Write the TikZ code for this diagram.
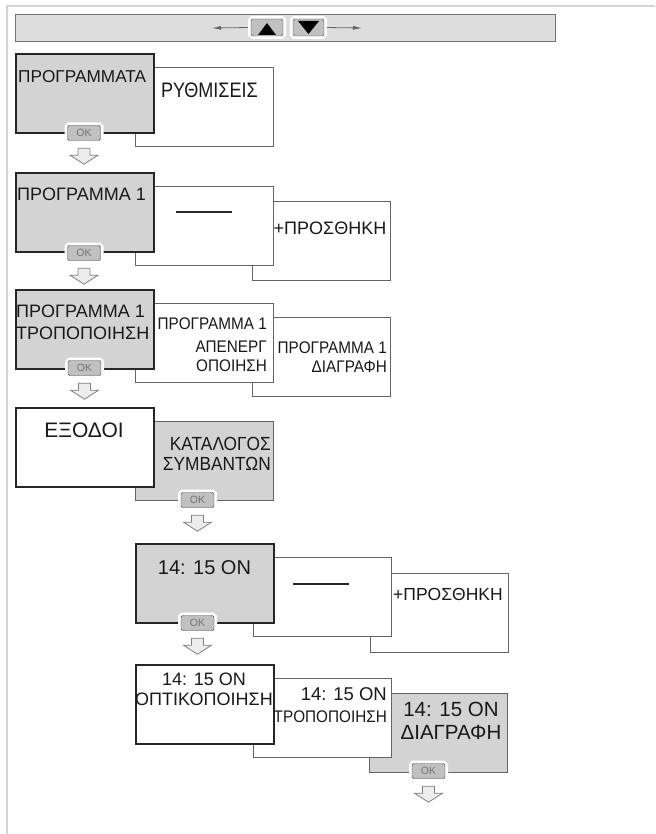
\documentclass[tikz,border=0pt]{standalone}
\usepackage{fontspec}
\setmainfont{Liberation Sans}
\newfontfamily\narrowA{Liberation Sans}[FakeStretch=0.86]
\newfontfamily\narrowB{Liberation Sans}[FakeStretch=0.91]
\usetikzlibrary{arrows.meta,calc}

\definecolor{selgray}{RGB}{211,211,211}
\definecolor{bargray}{RGB}{221,221,221}
\definecolor{framegray}{RGB}{212,212,212}
\definecolor{edgegray}{RGB}{100,100,100}
\definecolor{btngray}{RGB}{192,192,192}

\tikzset{
  menubox/.style={draw=edgegray, line width=0.9pt, fill=white, rectangle, minimum width=138pt, minimum height=79pt, inner sep=0pt, anchor=north west},
  frontbox/.style={menubox, draw=black!85, line width=1.6pt},
  selected/.style={fill=selgray},
  itemtext/.style={inner sep=0pt, text=black!90, font=\fontsize{18}{22}\selectfont},
  okbutton/.style={rectangle, draw=black!75, fill=btngray, rounded corners=1.5pt, minimum width=33pt, minimum height=15pt, inner sep=0pt, text=black!55, font=\fontsize{10.5}{11}\selectfont, preaction={draw=white, line width=6pt}},
  navbutton/.style={okbutton, minimum width=32pt, minimum height=17pt},
  navline/.style={draw=black!60, line width=0.8pt, shorten <=3pt, -{Latex[length=9pt,width=4pt]}},
  dashline/.style={draw=black!85, line width=1.8pt},
  pics/okarrow/.style={code={
    \draw[draw=black!50, fill=black!7, line width=0.8pt] (-6,0) -- (-6,7) -- (-14,7) -- (0,16) -- (14,7) -- (6,7) -- (6,0) -- cycle;
  }},
}

\begin{document}
\begin{tikzpicture}[x=1pt,y=-1pt]
\useasboundingbox (0,0) rectangle (655,834);
\draw[framegray, line width=2pt] (6.5,834) -- (6.5,6) -- (655,6);

\node[draw=black!55, line width=0.9pt, fill=bargray, rectangle, minimum width=540pt, minimum height=27pt, inner sep=0pt, anchor=north west] (bar) at (15,14) {};
\coordinate (lefttip) at (212,28);
\coordinate (righttip) at (362,28);
\node[navbutton] (up) at (267,27.5) {};
\node[navbutton, minimum width=31pt] (down) at (308.5,27.5) {};
\draw[navline] (up.west) -- (lefttip);
\draw[navline] (down.east) -- (righttip);
\fill ($(up.center)+(-9,7.5)$) -- ($(up.center)+(9,7.5)$) -- ($(up.center)+(0,-4.5)$) -- cycle;
\fill ($(down.center)+(-10.5,-6.5)$) -- ($(down.center)+(10.5,-6.5)$) -- ($(down.center)+(0,6.5)$) -- cycle;

\node[menubox] (settings) at (135,67) {};
\node[frontbox, selected] (programs) at (15,53) {};
\node[itemtext, anchor=north west, font=\fontsize{17.2}{20}\selectfont] (programs-t) at (18,70) {ΠΡΟΓΡΑΜΜΑΤΑ};
\node[itemtext, anchor=north west, font=\narrowA\fontsize{21}{24}\selectfont] (settings-t) at (161,83) {ΡΥΘΜΙΣΕΙΣ};
\node[okbutton] (ok1) at (84,133) {OK};
\pic at ([yshift=-7.5pt]ok1.south) {okarrow};

\node[menubox] (add1) at (252,201) {};
\node[menubox] (empty1) at (135,186) {};
\node[frontbox, selected] (prog1) at (15,172) {};
\node[itemtext, anchor=north west] (prog1-t) at (17,188) {ΠΡΟΓΡΑΜΜΑ 1};
\draw[dashline] ($(empty1.north west)+(41,26)$) -- ($(empty1.north west)+(97,26)$);
\node[itemtext, anchor=north west] (add1-t) at (273.5,222) {+ΠΡΟΣΘΗΚΗ};
\node[okbutton] (ok2) at (84,253) {OK};
\pic at ([yshift=-7.5pt]ok2.south) {okarrow};

\node[menubox] (delete1) at (252,317) {};
\node[menubox] (disable1) at (135,303) {};
\node[frontbox, selected] (edit1) at (15,289) {};
\node[itemtext, anchor=north west, align=left] (edit1-t) at (16,305) {ΠΡΟΓΡΑΜΜΑ 1\\ΤΡΟΠΟΠΟΙΗΣΗ};
\node[itemtext, anchor=north east, align=right, font=\narrowB\fontsize{16.8}{19}\selectfont] (disable1-t) at (267,318) {ΠΡΟΓΡΑΜΜΑ 1\\[4pt]ΑΠΕΝΕΡΓ\\ΟΠΟΙΗΣΗ};
\node[itemtext, anchor=north east, align=right, font=\narrowB\fontsize{16.8}{19}\selectfont] (delete1-t) at (387,342) {ΠΡΟΓΡΑΜΜΑ 1\\ΔΙΑΓΡΑΦΗ};
\node[okbutton] (ok3) at (84.5,368) {OK};
\pic at ([yshift=-7.5pt]ok3.south) {okarrow};

\node[menubox, selected] (events) at (135,421) {};
\node[frontbox] (outputs) at (15,407) {};
\node[itemtext, anchor=north, font=\fontsize{21}{24}\selectfont] (outputs-t) at (84,423) {ΕΞΟΔΟΙ};
\node[itemtext, anchor=north east, align=right, font=\narrowB\fontsize{19}{20}\selectfont] (events-t) at (271,437) {ΚΑΤΑΛΟΓΟΣ\\ΣΥΜΒΑΝΤΩΝ};
\node[okbutton] (ok4) at (197.5,500) {OK};
\pic at ([yshift=-7.5pt]ok4.south) {okarrow};

\node[menubox] (add2) at (370,573) {};
\node[menubox] (empty2) at (253,557) {};
\node[frontbox, selected] (event1) at (135,543) {};
\node[itemtext, anchor=north, font=\fontsize{20}{23}\selectfont] (event1-t) at (204.5,560) {14: 15 ON};
\draw[dashline] ($(empty2.north west)+(40,27)$) -- ($(empty2.north west)+(96,27)$);
\node[itemtext, anchor=north west, font=\fontsize{17.5}{21}\selectfont] (add2-t) at (393,588) {+ΠΡΟΣΘΗΚΗ};
\node[okbutton] (ok5) at (197.5,623) {OK};
\pic at ([yshift=-7.5pt]ok5.south) {okarrow};

\node[menubox, selected] (delete2) at (369,693) {};
\node[menubox] (edit2) at (253,678) {};
\node[frontbox] (view2) at (135,664) {};
\node[itemtext, anchor=north, align=center, font=\fontsize{18}{20}\selectfont] (view2-t) at (204,673) {14: 15 ON\\ΟΠΤΙΚΟΠΟΙΗΣΗ};
\node[itemtext, anchor=north east, align=right, font=\narrowB\fontsize{16.8}{22}\selectfont] (edit2-t) at (387,687) {{\normalfont\fontsize{18.5}{22}\selectfont 14: 15 ON}\\ΤΡΟΠΟΠΟΙΗΣΗ};
\node[itemtext, anchor=north, align=center, font=\fontsize{20.5}{23}\selectfont] (delete2-t) at (451,702) {14: 15 ON\\ΔΙΑΓΡΑΦΗ};
\node[okbutton] (ok6) at (428.5,771) {OK};
\pic at ([yshift=-7.5pt]ok6.south) {okarrow};
\end{tikzpicture}
\end{document}
